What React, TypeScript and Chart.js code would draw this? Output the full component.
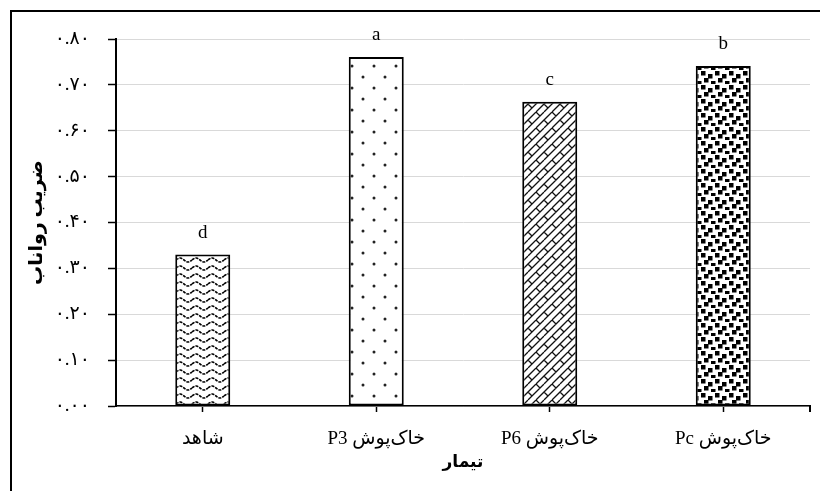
import React, { useEffect, useRef } from "react";
import { Chart, registerables } from "chart.js";

Chart.register(...registerables);

const categories = ["شاهد", "خاک‌پوش P3", "خاک‌پوش P6", "خاک‌پوش Pc"];
const runoffCoefficient = [0.33, 0.761, 0.663, 0.741];
const significanceLetters = ["d", "a", "c", "b"];
const yTickLabels = ["۰.۰۰", "۰.۱۰", "۰.۲۰", "۰.۳۰", "۰.۴۰", "۰.۵۰", "۰.۶۰", "۰.۷۰", "۰.۸۰"];
const xAxisTitle = "تیمار";
const yAxisTitle = "ضریب رواناب";

const FONT = "'Liberation Serif', 'Times New Roman', 'DejaVu Sans', serif";

function makeTile(w: number, h: number, draw: (c: CanvasRenderingContext2D) => void) {
  const cv = document.createElement("canvas");
  cv.width = w;
  cv.height = h;
  const c = cv.getContext("2d")!;
  c.fillStyle = "#ffffff";
  c.fillRect(0, 0, w, h);
  draw(c);
  return cv;
}

function wavePattern(ctx: CanvasRenderingContext2D) {
  const tile = makeTile(16, 8, (c) => {
    c.strokeStyle = "#000";
    c.lineWidth = 1.6;
    c.setLineDash([3, 1]);
    c.beginPath();
    for (let x = 0; x <= 16; x += 0.5) {
      const y = 4 - 2 * Math.sin((x / 16) * Math.PI * 2);
      if (x === 0) c.moveTo(x, y);
      else c.lineTo(x, y);
    }
    c.stroke();
  });
  return ctx.createPattern(tile, "repeat")!;
}

function dotPattern(ctx: CanvasRenderingContext2D) {
  const tile = makeTile(22, 22, (c) => {
    c.fillStyle = "#222";
    const pts = [
      [0, 0],
      [22, 0],
      [0, 22],
      [22, 22],
      [11, 11],
    ];
    for (const [x, y] of pts) {
      c.beginPath();
      c.arc(x, y, 1.5, 0, Math.PI * 2);
      c.fill();
    }
  });
  return ctx.createPattern(tile, "repeat")!;
}

function brickPattern(ctx: CanvasRenderingContext2D) {
  const tile = makeTile(16, 16, (c) => {
    c.strokeStyle = "#111";
    c.lineWidth = 1.3;
    c.beginPath();
    for (let k = -16; k <= 32; k += 8) {
      c.moveTo(k, 16);
      c.lineTo(k + 16, 0);
    }
    c.moveTo(0, 8);
    c.lineTo(4, 12);
    c.moveTo(8, 0);
    c.lineTo(12, 4);
    c.moveTo(8, 16);
    c.lineTo(12, 20);
    c.moveTo(16, 8);
    c.lineTo(20, 12);
    c.moveTo(4, -4);
    c.lineTo(8, 0);
    c.stroke();
  });
  return ctx.createPattern(tile, "repeat")!;
}

function squarePattern(ctx: CanvasRenderingContext2D) {
  const tile = makeTile(14, 14, (c) => {
    c.fillStyle = "#000";
    c.fillRect(1, 1, 4.5, 4.5);
    c.fillRect(8, 4, 4.5, 4.5);
    c.fillRect(4, 8, 4.5, 4.5);
    c.fillRect(11, 11, 4.5, 4.5);
    c.fillRect(-3, 11, 4.5, 4.5);
  });
  return ctx.createPattern(tile, "repeat")!;
}

const framePlugin = {
  id: "frame",
  beforeDraw(chart: any) {
    const c = chart.ctx;
    c.save();
    c.fillStyle = "#fff";
    c.fillRect(0, 0, chart.width, chart.height);
    c.strokeStyle = "#000";
    c.lineWidth = 2;
    c.beginPath();
    c.moveTo(11, chart.height);
    c.lineTo(11, 11);
    c.lineTo(chart.width, 11);
    c.stroke();
    c.restore();
  },
  afterDraw(chart: any) {
    const c = chart.ctx;
    const a = chart.chartArea;
    c.save();
    c.strokeStyle = "#000";
    c.lineWidth = 2;
    c.beginPath();
    c.moveTo(a.right, a.bottom);
    c.lineTo(a.right, a.bottom + 6);
    c.stroke();
    c.restore();
  },
};

const lettersPlugin = {
  id: "letters",
  afterDatasetsDraw(chart: any) {
    const c = chart.ctx;
    const meta = chart.getDatasetMeta(0);
    c.save();
    c.fillStyle = "#000";
    c.font = `19px ${FONT}`;
    c.textAlign = "center";
    c.textBaseline = "middle";
    meta.data.forEach((bar: any, i: number) => {
      c.fillText(significanceLetters[i], bar.x, bar.y - 22);
    });
    c.restore();
  },
};

export default function App() {
  const ref = useRef<HTMLCanvasElement | null>(null);

  useEffect(() => {
    const canvas = ref.current!;
    const ctx = canvas.getContext("2d")!;
    const fills = [wavePattern(ctx), dotPattern(ctx), brickPattern(ctx), squarePattern(ctx)];
    const chart = new Chart(ctx, {
      type: "bar",
      data: {
        labels: categories.map((c) => "\u202B" + c + "\u202C"),
        datasets: [
          {
            data: runoffCoefficient,
            backgroundColor: fills as any,
            borderColor: "#000",
            borderWidth: 2,
            borderSkipped: false,
            barPercentage: 0.317,
            categoryPercentage: 1,
          },
        ],
      },
      options: {
        responsive: false,
        devicePixelRatio: 1,
        animation: false,
        layout: { padding: { top: 39, right: 10, left: 0, bottom: 0 } },
        plugins: {
          legend: { display: false },
          tooltip: { enabled: false },
        },
        scales: {
          x: {
            offset: true,
            grid: {
              offset: false,
              drawOnChartArea: false,
              drawTicks: true,
              tickLength: 6,
              tickColor: "#000",
              tickWidth: 1.5,
            },
            border: { display: true, color: "#000", width: 1.5 },
            ticks: {
              color: "#000",
              font: { family: FONT, size: 19 },
              padding: 16,
              maxRotation: 0,
            },
            title: {
              display: true,
              text: xAxisTitle,
              color: "#000",
              font: { family: FONT, size: 17, weight: "bold" },
              padding: { top: 0, bottom: 18 },
            },
            afterFit: (s: any) => {
              s.height = 85;
            },
          },
          y: {
            min: 0,
            max: 0.8,
            ticks: {
              stepSize: 0.1,
              color: "#000",
              font: { family: FONT, size: 19 },
              padding: 18,
              callback: (_v: any, i: number) => yTickLabels[i],
            },
            grid: {
              color: "#d9d9d9",
              lineWidth: 1,
              tickColor: "#000",
              tickLength: 8,
              tickWidth: 1.5,
            },
            border: { display: true, color: "#000", width: 2 },
            title: {
              display: true,
              text: yAxisTitle,
              color: "#000",
              font: { family: FONT, size: 19, weight: "bold" },
              padding: { top: 26, bottom: 0 },
            },
            afterFit: (s: any) => {
              s.width = 116;
            },
          },
        },
      },
      plugins: [framePlugin, lettersPlugin],
    });
    return () => chart.destroy();
  }, []);

  return (
    <div style={{ position: "absolute", left: 0, top: 0, width: 820, height: 491 }}>
      <canvas ref={ref} width={820} height={491} style={{ display: "block" }} />
    </div>
  );
}
